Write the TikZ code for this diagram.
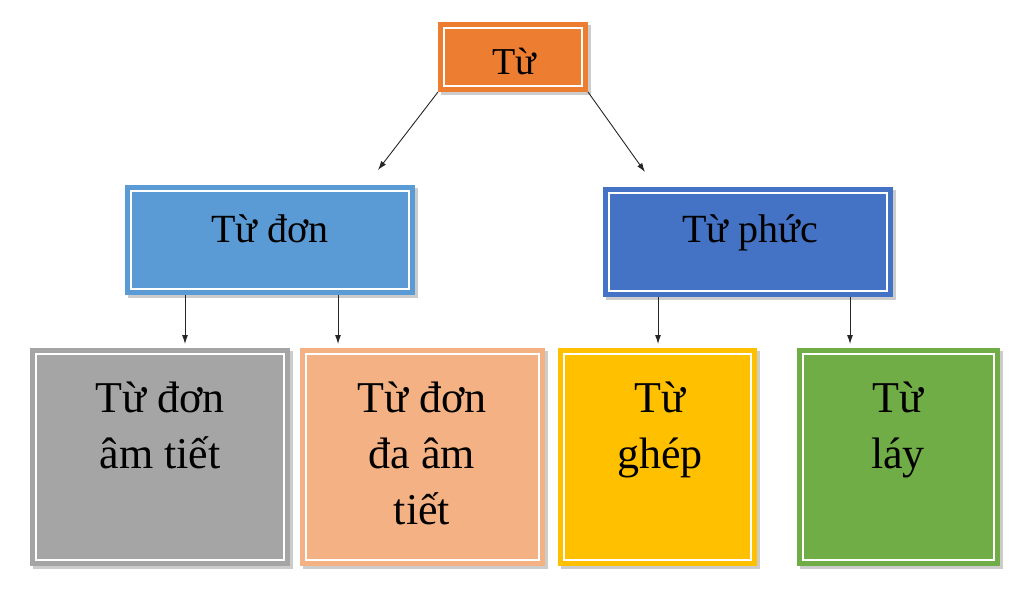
\documentclass[tikz,border=0pt]{standalone}
\usepackage{fontspec}
\setmainfont{Liberation Serif}
\usetikzlibrary{arrows.meta}
\begin{document}
\begin{tikzpicture}[x=1pt,y=-1pt,
  box/.style={anchor=north west,inner sep=0pt,outer sep=0pt,draw=none},
  arr/.style={-{Latex[length=9pt,width=6pt]},line width=0.9pt,black!85},
  inl/.style={white,line width=2pt}]
\useasboundingbox (0,0) rectangle (1024,593);
\newcommand{\bx}[6]{% name, x, y, w, h, colour
  \fill[black!20] (#2+3,#3+3) rectangle ++(#4,#5);
  \node[box,fill=#6,minimum width=#4pt,minimum height=#5pt] (#1) at (#2,#3) {};
  \draw[inl] ([xshift=6pt,yshift=-6pt]#1.north west) rectangle ([xshift=-6pt,yshift=6pt]#1.south east);}
\definecolor{cor}{HTML}{ED7D31}
\definecolor{cbl}{HTML}{5B9BD5}
\definecolor{cdb}{HTML}{4472C4}
\definecolor{cgr}{HTML}{A5A5A5}
\definecolor{cpe}{HTML}{F4B183}
\definecolor{cye}{HTML}{FFC000}
\definecolor{cgn}{HTML}{70AD47}
\bx{tu}{438}{22}{150}{70}{cor}
\bx{don}{125}{185}{290}{110}{cbl}
\bx{phuc}{603}{187}{290}{110}{cdb}
\bx{g}{30}{348}{260}{218}{cgr}
\bx{p}{300}{348}{245}{218}{cpe}
\bx{y}{558}{348}{199}{218}{cye}
\bx{gn}{797}{348}{203}{218}{cgn}
\tikzset{lbl/.style={font=\fontsize{40}{50}\selectfont,inner sep=0pt,align=center,anchor=base}}
\node[lbl,font=\fontsize{38}{46}\selectfont] (t0) at (514,75) {Từ};
\node[lbl] (t1) at (270,243) {Từ đơn};
\node[lbl] (t2) at (750,243) {Từ phức};
\tikzset{lb2/.style={font=\fontsize{44}{56}\selectfont,inner sep=0pt,align=center,anchor=north}}
\node[lb2] (t3) at (160,382) {Từ đơn\\âm tiết};
\node[lb2] (t4) at (422,382) {Từ đơn\\đa âm\\tiết};
\node[lb2] (t5) at (660,382) {Từ\\ghép};
\node[lb2] (t6) at (898,382) {Từ\\láy};
\coordinate (a1) at (378,170);
\coordinate (a2) at (645,172);
\coordinate (c1) at (185,0);
\coordinate (c2) at (338,0);
\coordinate (c3) at (658,0);
\coordinate (c4) at (850,0);
\draw[arr] (tu.south west) -- (a1);
\draw[arr] (tu.south east) -- (a2);
\draw[arr] (c1 |- don.south) -- ([yshift=4pt]c1 |- g.north);
\draw[arr] (c2 |- don.south) -- ([yshift=4pt]c2 |- p.north);
\draw[arr] (c3 |- phuc.south) -- ([yshift=4pt]c3 |- y.north);
\draw[arr] (c4 |- phuc.south) -- ([yshift=4pt]c4 |- gn.north);
\end{tikzpicture}
\end{document}
